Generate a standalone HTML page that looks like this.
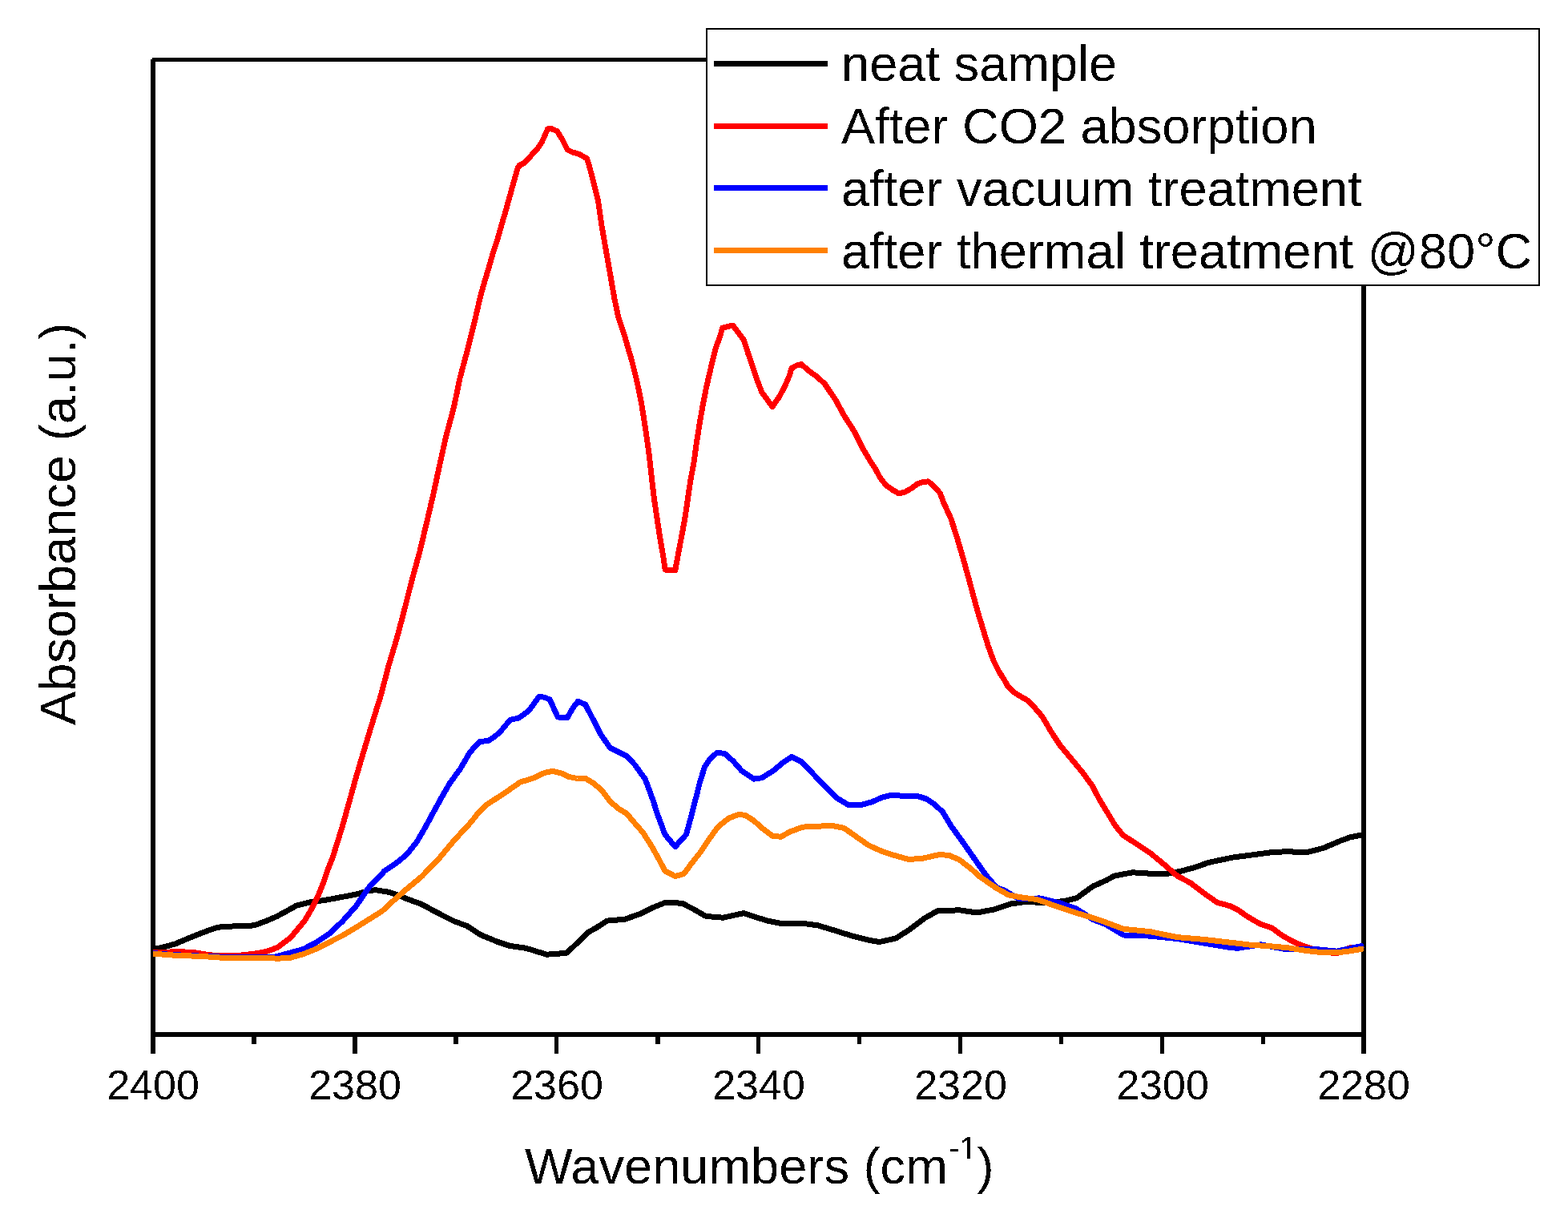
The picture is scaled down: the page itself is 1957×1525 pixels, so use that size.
<!DOCTYPE html>
<html><head><meta charset="utf-8"><title>FTIR spectra</title>
<style>
html,body{margin:0;padding:0;background:#fff;}
body{width:1957px;height:1525px;overflow:hidden;}
svg{display:block;}
text{font-family:"Liberation Sans",Arial,sans-serif;fill:#000;}
</style></head>
<body>
<svg width="1957" height="1525" viewBox="0 0 1957 1525">
<defs><filter id="thr" x="0" y="0" width="1957" height="1525" filterUnits="userSpaceOnUse" color-interpolation-filters="sRGB"><feComponentTransfer><feFuncA type="discrete" tableValues="0 1"/></feComponentTransfer></filter></defs>
<rect x="0" y="0" width="1957" height="1525" fill="#fff"/>
<!-- axes frame -->
<g fill="#000" shape-rendering="crispEdges">
<rect x="190" y="72" width="1515" height="5"/>
<rect x="188" y="74" width="6" height="1241"/>
<rect x="1699" y="74" width="6" height="1241"/>
<rect x="188" y="1288" width="1517" height="6"/>
<!-- major ticks -->
<rect x="440" y="1294" width="6" height="21"/>
<rect x="692" y="1294" width="5" height="21"/>
<rect x="944" y="1294" width="5" height="21"/>
<rect x="1196" y="1294" width="5" height="21"/>
<rect x="1448" y="1294" width="5" height="21"/>
<!-- minor ticks -->
<rect x="314" y="1294" width="6" height="9"/>
<rect x="566" y="1294" width="6" height="9"/>
<rect x="818" y="1294" width="6" height="9"/>
<rect x="1070" y="1294" width="5" height="9"/>
<rect x="1322" y="1294" width="5" height="9"/>
<rect x="1574" y="1294" width="5" height="9"/>
</g>
<g filter="url(#thr)">
<!-- tick labels -->
<g font-size="52" text-anchor="middle">
<text x="191" y="1372">2400</text>
<text x="443" y="1372">2380</text>
<text x="695" y="1372">2360</text>
<text x="947" y="1372">2340</text>
<text x="1199" y="1372">2320</text>
<text x="1451" y="1372">2300</text>
<text x="1702" y="1372">2280</text>
</g>
<!-- axis titles -->
<text x="655" y="1477" font-size="63.2">Wavenumbers (cm</text>
<text x="1184.5" y="1446" font-size="39">-</text>
<clipPath id="c1"><rect x="1190" y="1400" width="40" height="42.6"/><rect x="1207.4" y="1400" width="3.2" height="60"/></clipPath><text x="1197.5" y="1446" font-size="39" clip-path="url(#c1)">1</text>
<text x="1219.6" y="1477" font-size="63.2">)</text>
<text transform="translate(94,905) rotate(-90)" x="0" y="0" font-size="63.2">Absorbance (a.u.)</text>

</g>
<!-- CURVES -->
<g fill="none" stroke-width="7" stroke-linejoin="round" stroke-linecap="butt" shape-rendering="crispEdges">
<polyline id="black" stroke="#000" points="191.0,1184.5 202.4,1182.4 218.8,1177.9 235.2,1170.9 251.6,1164.3 268.0,1158.4 276.2,1156.6 292.6,1155.9 317.1,1154.9 333.5,1148.8 346.0,1143.4 362.4,1134.4 370.0,1130.1 385.7,1126.1 406.7,1123.2 430.0,1118.8 444.4,1116.1 460.8,1111.5 469.0,1110.7 485.3,1113.3 501.7,1118.9 506.0,1121.0 526.5,1128.6 546.9,1139.6 567.4,1149.9 582.7,1155.5 600.4,1166.9 620.9,1175.3 636.2,1180.4 656.6,1183.3 682.2,1191.2 697.5,1190.1 707.7,1189.1 723.1,1174.1 733.3,1163.9 743.5,1158.3 757.8,1149.1 780.0,1147.2 800.4,1139.9 815.8,1132.2 831.1,1126.1 851.5,1127.3 866.9,1135.3 880.2,1143.1 892.4,1144.5 902.6,1145.2 912.9,1142.9 928.2,1139.6 943.5,1144.7 958.8,1149.3 974.2,1152.3 980.0,1152.3 1000.4,1152.1 1020.9,1154.9 1041.3,1161.0 1061.8,1167.5 1082.2,1172.8 1097.5,1175.6 1118.0,1171.0 1133.3,1161.3 1153.7,1146.0 1170.1,1136.8 1180.0,1136.2 1198.4,1135.9 1218.8,1139.0 1241.3,1134.9 1261.8,1128.0 1282.2,1125.0 1302.6,1127.0 1328.2,1124.5 1343.5,1120.9 1364.0,1106.1 1380.0,1098.9 1391.1,1093.0 1413.4,1088.8 1435.7,1090.2 1458.0,1090.2 1474.8,1086.9 1491.5,1082.4 1508.2,1076.5 1524.9,1072.9 1540.0,1069.8 1562.3,1067.0 1584.6,1064.0 1606.9,1062.6 1629.2,1064.0 1651.5,1058.4 1673.8,1049.0 1684.9,1045.0 1702.0,1041.5"/>
<polyline id="red" stroke="#f00" points="191.0,1189.0 222.9,1187.5 243.4,1188.8 259.8,1191.6 276.2,1193.0 292.6,1192.9 309.0,1191.2 321.2,1189.6 333.5,1187.1 346.0,1182.5 362.4,1170.5 374.7,1155.7 380.5,1148.7 389.7,1132.9 397.3,1117.2 403.6,1101.5 408.9,1085.7 415.2,1070.0 426.4,1034.4 435.3,1002.9 443.7,972.3 453.6,938.8 466.0,897.8 475.6,867.0 484.8,831.6 495.4,796.2 504.8,760.8 513.7,725.4 523.9,688.5 532.7,651.6 541.0,616.2 548.6,580.8 556.5,545.4 566.4,508.5 574.1,471.6 583.6,436.2 592.4,400.8 600.7,365.4 609.5,336.0 614.7,317.8 621.1,298.2 626.7,278.5 632.4,258.8 637.8,239.2 643.4,219.5 646.3,209.5 648.5,206.3 654.0,203.5 661.7,195.4 671.1,185.1 676.7,176.5 683.7,160.7 688.5,160.7 695.5,163.9 701.8,174.1 708.1,186.7 714.4,189.9 722.3,192.2 732.5,197.7 735.7,208.0 738.8,219.8 742.8,235.5 746.5,250.0 750.8,280.8 756.2,311.6 761.6,342.4 767.0,373.3 771.9,396.4 779.6,419.5 788.6,450.3 795.0,476.0 800.5,502.8 805.7,535.6 810.3,568.4 813.8,600.0 816.6,623.6 820.1,647.2 823.7,670.9 827.8,694.5 830.2,711.0 842.8,711.5 845.9,694.5 850.4,670.9 854.8,647.2 858.3,623.6 861.7,600.0 865.9,578.1 869.1,554.5 872.8,530.9 876.9,507.2 881.5,483.6 887.0,460.0 893.4,434.3 899.1,418.6 901.5,409.2 907.8,407.6 914.8,406.2 921.1,414.7 928.2,424.1 934.1,442.2 939.6,458.0 944.7,473.7 950.8,489.4 964.0,507.5 972.3,495.7 979.8,481.5 984.9,469.7 988.0,459.5 993.5,456.4 1000.0,454.5 1009.8,463.1 1019.7,470.0 1029.5,479.3 1042.8,499.0 1053.6,518.7 1066.1,538.3 1075.9,558.0 1086.0,575.2 1092.9,585.7 1098.4,596.2 1106.2,606.0 1114.1,611.4 1122.0,615.9 1129.8,614.0 1137.7,609.3 1145.6,603.5 1153.5,601.3 1158.7,600.9 1166.6,607.8 1173.4,615.6 1177.0,625.5 1186.8,647.2 1194.5,670.8 1201.3,694.4 1208.0,718.0 1214.3,741.6 1220.8,765.2 1227.9,788.4 1233.5,806.7 1240.3,825.1 1247.3,838.9 1253.3,848.1 1258.2,857.2 1266.4,864.5 1274.7,869.6 1282.0,873.8 1290.3,882.0 1297.6,890.3 1302.3,896.7 1312.0,913.4 1323.1,930.2 1337.0,946.9 1350.8,963.6 1363.0,980.3 1371.9,997.1 1382.0,1013.8 1392.0,1030.5 1399.3,1039.4 1402.3,1042.8 1419.0,1053.4 1435.7,1064.6 1452.5,1078.5 1469.2,1093.0 1485.9,1101.9 1502.6,1114.7 1519.4,1126.4 1536.1,1130.9 1545.0,1135.5 1556.7,1143.7 1573.4,1153.4 1586.8,1157.6 1601.3,1168.2 1618.0,1177.2 1634.8,1183.3 1650.0,1187.5 1668.2,1189.9 1684.9,1182.8 1702.0,1181.0"/>
<polyline id="blue" stroke="#00f" points="191.0,1189.5 210.6,1191.2 235.2,1192.5 276.2,1194.1 292.6,1194.9 309.0,1194.5 341.7,1194.5 362.4,1189.0 378.8,1184.4 395.2,1175.8 411.6,1164.8 428.0,1149.2 444.4,1130.7 460.8,1107.0 477.1,1090.2 480.0,1086.8 493.8,1077.6 507.5,1066.6 520.0,1051.0 530.7,1032.6 540.6,1014.3 550.7,995.9 561.3,977.5 574.6,959.2 586.0,939.7 594.3,929.8 599.0,925.5 603.2,925.1 609.9,924.3 616.5,919.8 623.2,914.5 629.8,906.8 636.0,899.0 639.8,897.5 646.4,896.5 653.1,892.2 659.7,887.2 666.3,878.3 673.0,869.0 679.6,870.3 686.3,873.0 692.9,887.9 696.2,894.9 700.4,895.3 708.2,895.5 715.3,883.0 721.5,875.3 730.7,879.4 741.9,900.9 749.6,916.3 761.4,933.1 771.6,938.3 781.8,943.4 792.1,954.1 805.4,972.5 814.3,996.7 821.0,1017.2 829.9,1041.4 842.7,1056.7 856.5,1041.4 862.1,1020.9 867.3,1000.5 869.3,993.0 873.5,976.0 879.5,957.2 886.2,947.0 894.4,939.8 900.0,939.8 905.1,940.9 915.3,950.1 925.6,961.8 940.9,972.1 951.2,970.7 966.5,960.8 976.7,952.1 988.0,944.4 1000.3,950.6 1012.5,963.4 1027.9,979.2 1043.2,995.1 1058.6,1004.3 1073.9,1004.8 1089.3,1000.4 1100.0,995.5 1110.2,992.7 1130.7,993.2 1146.0,993.7 1156.3,997.1 1166.5,1003.8 1176.7,1013.5 1187.5,1031.4 1202.3,1051.8 1216.6,1072.3 1231.0,1092.8 1244.2,1108.1 1253.1,1111.0 1272.0,1121.9 1297.5,1120.9 1323.1,1127.0 1343.5,1134.2 1364.0,1147.4 1380.0,1153.6 1402.3,1167.0 1435.7,1168.1 1469.2,1171.5 1502.6,1177.0 1536.1,1182.6 1545.0,1183.3 1573.4,1178.8 1606.9,1185.0 1640.3,1184.4 1668.2,1187.2 1702.0,1180.0"/>
<polyline id="orange" stroke="#ff8000" points="191.0,1190.0 210.6,1191.8 235.2,1192.8 259.8,1194.0 284.4,1195.7 309.0,1195.5 333.5,1195.2 346.0,1196.3 362.4,1195.2 378.8,1190.6 395.2,1184.0 411.6,1175.6 428.0,1167.2 444.4,1157.4 460.8,1147.1 477.1,1136.9 493.5,1121.7 506.0,1110.8 526.5,1093.6 546.9,1072.6 567.4,1048.1 587.8,1026.1 596.5,1015.0 608.3,1003.6 628.8,990.4 649.2,976.1 664.6,971.5 679.9,964.3 690.1,962.3 700.4,964.9 710.2,969.5 720.5,971.5 730.7,971.5 740.9,977.6 751.2,986.3 761.4,1000.0 771.6,1009.0 781.8,1015.0 792.1,1027.1 802.3,1038.8 812.5,1054.7 822.8,1073.1 829.9,1086.9 842.7,1093.6 853.5,1090.5 863.7,1076.7 873.9,1063.9 884.1,1048.5 894.4,1034.2 900.0,1028.7 910.2,1020.7 922.5,1016.3 930.7,1017.6 940.9,1024.2 951.2,1033.4 964.4,1043.4 974.7,1044.2 987.0,1037.5 1002.3,1032.1 1022.8,1031.1 1038.1,1030.4 1053.5,1033.4 1068.8,1044.2 1084.1,1054.9 1100.0,1062.1 1115.3,1067.2 1133.8,1072.5 1151.2,1071.3 1171.6,1066.7 1183.9,1067.2 1197.2,1072.8 1212.5,1084.6 1221.0,1092.6 1228.0,1097.5 1243.2,1108.2 1258.6,1116.8 1273.9,1119.8 1294.4,1122.5 1323.1,1132.6 1343.5,1139.3 1364.0,1145.4 1380.0,1151.0 1402.3,1159.3 1435.7,1162.7 1469.2,1169.6 1502.6,1172.4 1536.1,1176.3 1545.0,1177.3 1562.3,1179.4 1584.6,1180.7 1606.9,1182.7 1629.2,1186.3 1651.5,1188.9 1668.2,1188.9 1684.9,1186.9 1702.0,1183.8"/>
</g>

<!-- legend -->
<rect x="882" y="36" width="1039" height="320" fill="#fff" stroke="#000" stroke-width="2"/>
<g shape-rendering="crispEdges">
<rect x="891" y="76" width="142" height="7" fill="#000"/>
<rect x="891" y="154" width="142" height="7" fill="#f00"/>
<rect x="891" y="231" width="142" height="7" fill="#00f"/>
<rect x="891" y="309" width="142" height="7" fill="#ff8000"/>
</g>
<g filter="url(#thr)"><g font-size="63.2">
<text x="1050" y="101">neat sample</text>
<text x="1050" y="179">After CO2 absorption</text>
<text x="1050" y="257">after vacuum treatment</text>
<text x="1050" y="335">after thermal treatment @80°C</text>
</g></g>
</svg>
</body></html>
